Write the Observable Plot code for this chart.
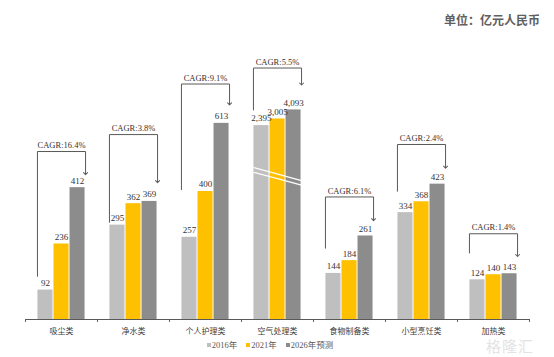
<!DOCTYPE html>
<html>
<head>
<meta charset="utf-8">
<script src="https://cdn.jsdelivr.net/npm/d3@7"></script>
<script src="https://cdn.jsdelivr.net/npm/@observablehq/plot@0.6"></script>
<style>
  body { margin: 0; background: #fff; }
  #wrap { position: relative; width: 554px; height: 357px; overflow: hidden; font-family: "Liberation Serif", "Noto Sans CJK SC", serif; }
  #title { height: 30px; box-sizing: border-box; padding-top: 12px; padding-right: 14px; text-align: right; font-family: "Noto Sans CJK SC", sans-serif; font-size: 12px; line-height: 16px; color: #606060; font-weight: bold; }
  #legend { display: flex; justify-content: center; gap: 9px; padding-right: 14px; font-size: 8.5px; line-height: 12px; color: #595959; margin-top: 1px; }
  #legend span.sw { display: inline-block; width: 4px; height: 4px; margin-right: 1px; vertical-align: middle; position: relative; top: -1px; }
  #wm { position: absolute; left: 486px; top: 337px; font-family: "Noto Sans CJK SC", sans-serif; font-size: 15px; line-height: 18px; color: #e3e3e3; letter-spacing: 1px; }
</style>
</head>
<body>
<div id="wrap">
  <div id="title"></div>
  <div id="chart"></div>
  <div id="legend"></div>
  <div id="wm">格隆汇</div>
</div>
<script>
const unitTitle = "单位：亿元人民币";
const categories = ["吸尘类", "净水类", "个人护理类", "空气处理类", "食物制备类", "小型烹饪类", "加热类"];
const years = ["2016年", "2021年", "2026年预测"];
const v2016 = [92, 295, 257, 2395, 144, 334, 124];
const v2021 = [236, 362, 400, 3005, 184, 368, 140];
const v2026 = [412, 369, 613, 4093, 261, 423, 143];
const cagr = ["16.4%", "3.8%", "9.1%", "5.5%", "6.1%", "2.4%", "1.4%"];
// CAGR bracket anchors (in displayed value units): start of left leg, top, arrow tip
const cagrFrom = [135, 304, 406, 655, 223, 401, 208];
const cagrTop = [525, 578, 736, 786, 383, 547, 268];
const cagrTo = [456, 431, 674, 736, 312, 476, 200];
const colors = ["#BFBFBF", "#FFC000", "#8C8C8C"];

// broken axis for the very large category
const brokenCategory = "空气处理类";
const breakScale = d3.scaleLog().domain([2395, 4093]).range([606, 655]);
const disp = v => v > 1000 ? breakScale(v) : v;
const breakMarks = [
  {c: brokenCategory, x1: 0, x2: 3, y1: 475, y2: 434},
  {c: brokenCategory, x1: 0, x2: 3, y1: 460, y2: 420},
  {c: "个人护理类", x1: -0.25, x2: 0.25, y1: 509, y2: 505},
  {c: "个人护理类", x1: -0.25, x2: 0.25, y1: 500, y2: 496}
];

const rows = categories.flatMap((c, i) =>
  [v2016[i], v2021[i], v2026[i]].map((v, j) => ({category: c, year: years[j], j, value: v})));

const bracket = categories.flatMap((c, i) => [
  {c, x: 0, y: cagrFrom[i]},
  {c, x: 0, y: cagrTop[i]},
  {c, x: 3, y: cagrTop[i]},
  {c, x: 3, y: cagrTo[i]}
]);

const xDom = [-0.745, 3.745];
const fmt = d3.format(",");

document.getElementById("title").textContent = unitTitle;

const chart = Plot.plot({
  width: 554,
  height: 308,
  marginLeft: 23,
  marginRight: 23,
  marginTop: 10,
  marginBottom: 19,
  fx: {domain: categories, padding: 0, label: null, axis: "bottom", tickSize: 0, tickPadding: 9},
  x: {domain: xDom, axis: null},
  y: {domain: [0, 872], axis: null},
  color: {domain: years, range: colors},
  style: {fontFamily: "'Liberation Serif', 'Noto Sans CJK SC', serif", fontSize: "8px", color: "#404040", background: "transparent"},
  marks: [
    Plot.rect(rows, {fx: "category", x1: "j", x2: d => d.j + 1, y1: () => 0, y2: d => disp(d.value), fill: "year", insetLeft: 0.5, insetRight: 0.5}),
    Plot.link(breakMarks, {fx: "c", x1: "x1", x2: "x2", y1: "y1", y2: "y2", stroke: "white", strokeWidth: 1.2}),
    Plot.text(rows, {fx: "category", x: d => d.j + 0.5, y: d => disp(d.value), text: d => fmt(d.value), dy: -7, fontSize: 9, fill: "#333"}),
    Plot.line(bracket, {fx: "c", x: "x", y: "y", z: "c", stroke: "#595959", strokeWidth: 1, markerEnd: "arrow"}),
    Plot.text(categories, {fx: d => d, x: () => 1.5, y: (d, i) => cagrTop[i], text: (d, i) => "CAGR:" + cagr[i], dy: -6, fontSize: 8.5, fill: "#333"}),
    Plot.ruleY([0], {stroke: "#595959", strokeWidth: 1}),
    Plot.ruleX(categories, {fx: d => d, x: () => xDom[0], y1: () => 0, y2: () => -9, stroke: "#595959"}),
    Plot.ruleX(categories.slice(-1), {fx: d => d, x: () => xDom[1], y1: () => 0, y2: () => -9, stroke: "#595959"})
  ]
});
document.getElementById("chart").appendChild(chart);

const legend = document.getElementById("legend");
years.forEach((y, i) => {
  const item = document.createElement("div");
  const sw = document.createElement("span");
  sw.className = "sw";
  sw.style.background = colors[i];
  item.appendChild(sw);
  item.appendChild(document.createTextNode(y));
  legend.appendChild(item);
});
</script>
</body>
</html>
